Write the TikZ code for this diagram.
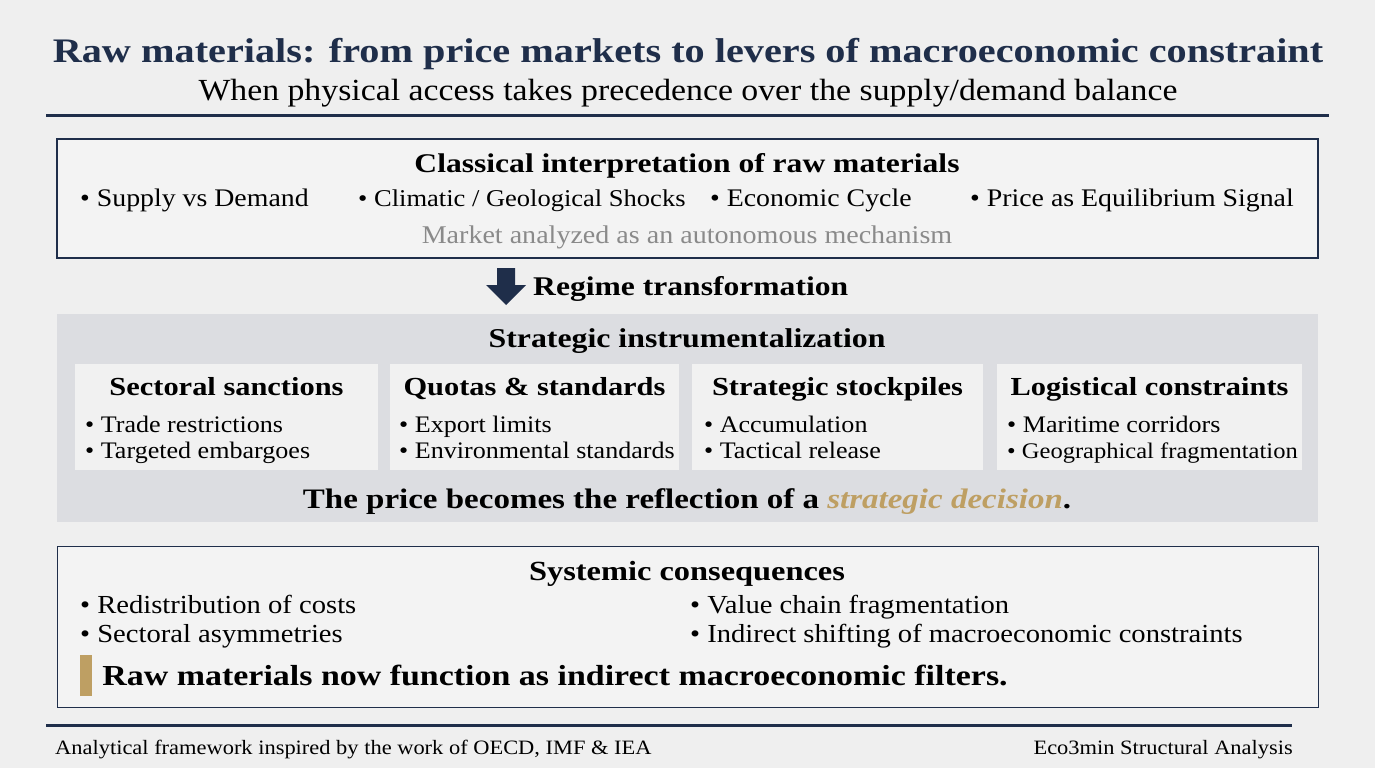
\documentclass[tikz,border=0pt]{standalone}
\usepackage{fontspec}
\setmainfont{Liberation Serif}[
  UprightFeatures={FakeStretch=1.10},
  BoldFeatures={FakeStretch=1.17},
  ItalicFeatures={FakeStretch=1.10},
  BoldItalicFeatures={FakeStretch=1.17}]
\usetikzlibrary{positioning}

\definecolor{navy}{HTML}{1F2E4A}
\definecolor{pagebg}{HTML}{EFEFEF}
\definecolor{boxfill}{HTML}{F3F3F3}
\definecolor{bandgray}{HTML}{DCDDE1}
\definecolor{subfill}{HTML}{F1F1F1}
\definecolor{gold}{HTML}{BE9F63}
\definecolor{muted}{HTML}{8A8A8A}

\newcommand{\fs}[1]{\fontsize{#1}{#1}\selectfont}

\begin{document}
\begin{tikzpicture}[x=1pt,y=-1pt,inner sep=0pt,node distance=8pt]
\tikzset{frame/.style={draw=navy,line width=1.8pt,fill=boxfill}}
\tikzset{thinframe/.style={draw=navy,line width=1pt,fill=boxfill}}
\tikzset{band/.style={fill=bandgray}}
\tikzset{subbox/.style={fill=subfill,minimum height=106pt}}
\tikzset{maintitle/.style={font=\fs{34.4}\bfseries,text=navy,anchor=base}}
\tikzset{subtitle/.style={font=\fs{30.7},anchor=base}}
\tikzset{heading/.style={font=\fs{27}\bfseries,anchor=base}}
\tikzset{subhead/.style={font=\fs{26}\bfseries,anchor=base}}
\tikzset{item/.style={font=\fs{25.3},anchor=base west}}
\tikzset{smallitem/.style={font=\fs{23.7},anchor=base west}}
\tikzset{foot/.style={font=\fs{20.4}}}

\fill[pagebg] (0,0) rectangle (1375,768);
\useasboundingbox (0,0) rectangle (1375,768);

% title block
\node[maintitle] (title) at (688,63) {Raw materials: from price markets to levers of macroeconomic constraint};
\node[subtitle] (subtitle) at (688,100) {When physical access takes precedence over the supply/demand balance};
\draw[navy,line width=3pt] (46,115) -- (1329,115);

% classical view
\node[frame,minimum width=1261pt,minimum height=119pt] (classic) at (687.5,198.5) {};
\node[heading] (classichead) at (687,172) {Classical interpretation of raw materials};
\node[item] (supply) at (80,206) {\textbullet\ Supply vs Demand};
\node[item,font=\fs{24.1}] (shocks) at (358,206) {\textbullet\ Climatic / Geological Shocks};
\node[item] (cycle) at (710,206) {\textbullet\ Economic Cycle};
\node[item] (signal) at (970,206) {\textbullet\ Price as Equilibrium Signal};
\node[font=\fs{25.5},text=muted,anchor=base] (autonomous) at (687,243) {Market analyzed as an autonomous mechanism};

% regime shift
\fill[navy] (497,268) -- (515,268) -- (515,285) -- (526,285) -- (506,305) -- (486,285) -- (497,285) -- cycle;
\node[heading,anchor=base west] (regime) at (533,295) {Regime transformation};

% strategic band
\node[band,minimum width=1261pt,minimum height=208pt] (instr) at (687.5,418) {};
\node[heading,font=\fs{27.2}\bfseries] (instrhead) at (687,347) {Strategic instrumentalization};

\node[subbox,minimum width=303pt] (sanctions) at (226.5,417) {};
\node[subbox,minimum width=289pt] (quotas) at (534.5,417) {};
\node[subbox,minimum width=291pt] (stocks) at (837.5,417) {};
\node[subbox,minimum width=305pt] (logistics) at (1149.5,417) {};

\node[subhead] (sanctionshead) at (226.5,395) {Sectoral sanctions};
\node[subhead] (quotashead) at (534.5,395) {Quotas \& standards};
\node[subhead] (stockshead) at (837.5,395) {Strategic stockpiles};
\node[subhead] (logisticshead) at (1149.5,395) {Logistical constraints};

\node[smallitem] (trade) at (85,432) {\textbullet\ Trade restrictions};
\node[smallitem] (embargo) at (85,458) {\textbullet\ Targeted embargoes};
\node[smallitem] (export) at (399,432) {\textbullet\ Export limits};
\node[smallitem] (environ) at (399,458) {\textbullet\ Environmental standards};
\node[smallitem] (accum) at (704,432) {\textbullet\ Accumulation};
\node[smallitem] (release) at (704,458) {\textbullet\ Tactical release};
\node[smallitem] (maritime) at (1007,432) {\textbullet\ Maritime corridors};
\node[smallitem,font=\fs{22.3}] (geo) at (1007,458) {\textbullet\ Geographical fragmentation};

\node[font=\fs{28.2}\bfseries,anchor=base] (decision) at (687,508) {The price becomes the reflection of a \textcolor{gold}{\itshape strategic decision}.};

% consequences
\node[thinframe,minimum width=1261pt,minimum height=161pt] (conseq) at (687.5,626.5) {};
\node[heading,font=\fs{27.7}\bfseries] (conseqhead) at (687,580) {Systemic consequences};
\node[item,font=\fs{26}] (costs) at (80,613) {\textbullet\ Redistribution of costs};
\node[item,font=\fs{26}] (asym) at (80,642) {\textbullet\ Sectoral asymmetries};
\node[item,font=\fs{26}] (chain) at (690,613) {\textbullet\ Value chain fragmentation};
\node[item,font=\fs{26}] (shifting) at (690,642) {\textbullet\ Indirect shifting of macroeconomic constraints};
\node[fill=gold,minimum width=12pt,minimum height=41pt] (accent) at (86,675.5) {};
\node[font=\fs{29}\bfseries,right=10pt of accent] (filters) {Raw materials now function as indirect macroeconomic filters.};

% footer
\draw[navy,line width=3pt] (46,725) -- (1292,725);
\node[foot,anchor=base west] (source) at (55,754) {Analytical framework inspired by the work of OECD, IMF \& IEA};
\node[foot,anchor=base east] (brand) at (1293,754) {Eco3min Structural Analysis};
\end{tikzpicture}
\end{document}
